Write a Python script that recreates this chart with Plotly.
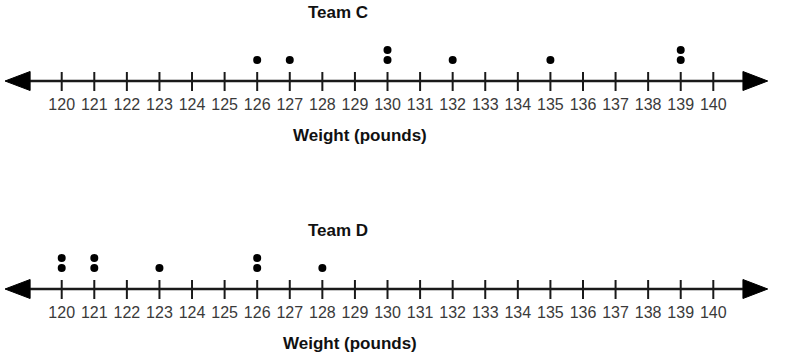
import plotly.graph_objects as go
from collections import Counter

# ---- data ----
team_c_weights = [126, 127, 130, 130, 132, 135, 139, 139]
team_d_weights = [120, 120, 121, 121, 123, 126, 126, 128]
tick_values = list(range(120, 141))
tick_labels = [str(v) for v in tick_values]
panel_titles = ["Team C", "Team D"]
axis_title = "Weight (pounds)"

# ---- layout constants ----
W, H = 800, 361
X_RANGE = [118.106, 142.661]
LINE_Y = -1.1          # number line level (in stack units)
ARROW_L = (118.26, 119.03)
ARROW_R = (141.67, 140.91)
FONT = "Liberation Sans, Arial, sans-serif"
INK = "#1a1a1a"


def stacks(values):
    xs, ys = [], []
    cnt = Counter()
    for v in values:
        cnt[v] += 1
        xs.append(v)
        ys.append(cnt[v])
    return xs, ys


fig = go.Figure()
shapes = []
panels = [
    ("x", "y", team_c_weights),
    ("x2", "y2", team_d_weights),
]
for xr, yr, vals in panels:
    # ticks
    tx, ty = [], []
    for v in tick_values:
        tx += [v, v, None]
        ty += [LINE_Y - 1.0, LINE_Y + 0.9, None]
    fig.add_trace(go.Scatter(x=tx, y=ty, mode="lines", xaxis=xr, yaxis=yr,
                             line=dict(color=INK, width=2), hoverinfo="skip",
                             showlegend=False))
    # tick labels
    fig.add_trace(go.Scatter(x=tick_values, y=[LINE_Y - 2.5] * len(tick_values),
                             text=tick_labels, mode="text", xaxis=xr, yaxis=yr,
                             textfont=dict(family=FONT, size=16, color="#3a3a3a"),
                             hoverinfo="skip", showlegend=False))
    # dots
    dx, dy = stacks(vals)
    fig.add_trace(go.Scatter(x=dx, y=dy, mode="markers", xaxis=xr, yaxis=yr,
                             marker=dict(color="black", size=8),
                             showlegend=False))
    # number line
    shapes.append(dict(type="line", xref=xr, yref=yr, x0=ARROW_L[1], x1=ARROW_R[1],
                       y0=LINE_Y, y1=LINE_Y, line=dict(color=INK, width=2.5)))
    shapes.append(dict(type="path", xref=xr, yref=yr,
                       path=f"M {ARROW_L[0]},{LINE_Y} L {ARROW_L[1]},{LINE_Y + 0.95} "
                            f"L {ARROW_L[1]},{LINE_Y - 0.95} Z",
                       fillcolor="black", line=dict(color="black", width=1)))
    shapes.append(dict(type="path", xref=xr, yref=yr,
                       path=f"M {ARROW_R[0]},{LINE_Y} L {ARROW_R[1]},{LINE_Y + 0.95} "
                            f"L {ARROW_R[1]},{LINE_Y - 0.95} Z",
                       fillcolor="black", line=dict(color="black", width=1)))

split = 1 - 180 / H
hidden = dict(visible=False, showgrid=False, zeroline=False, fixedrange=True)
annotations = [
    dict(text=f"<b>{panel_titles[0]}</b>", x=337.5 / W, y=1 - 12 / H),
    dict(text=f"<b>{axis_title}</b>", x=360 / W, y=1 - 136 / H),
    dict(text=f"<b>{panel_titles[1]}</b>", x=338 / W, y=1 - 230 / H),
    dict(text=f"<b>{axis_title}</b>", x=350 / W, y=1 - 343 / H),
]
for a in annotations:
    a.update(xref="paper", yref="paper", showarrow=False, xanchor="center",
             yanchor="middle", font=dict(family=FONT, size=17, color="#111111"))

fig.update_layout(
    width=W, height=H, margin=dict(l=0, r=0, t=0, b=0),
    paper_bgcolor="white", plot_bgcolor="white",
    xaxis=dict(range=X_RANGE, domain=[0, 1], anchor="y", **hidden),
    yaxis=dict(range=[-11.0, 7.0], domain=[split, 1], anchor="x", **hidden),
    xaxis2=dict(range=X_RANGE, domain=[0, 1], anchor="y2", **hidden),
    yaxis2=dict(range=[-8.3, 9.8], domain=[0, split], anchor="x2", **hidden),
    shapes=shapes, annotations=annotations,
)

fig.write_html("out.html", config={"displayModeBar": False},
               post_script="document.body.style.margin='0';document.body.style.overflow='hidden';")
